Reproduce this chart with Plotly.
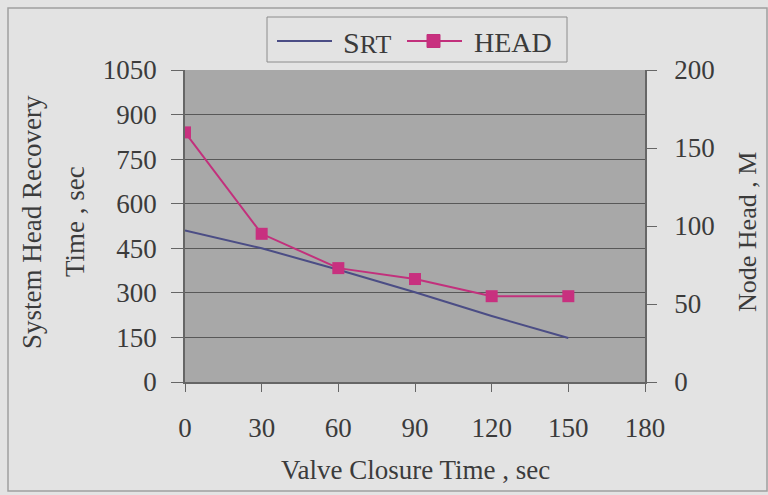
import plotly.graph_objects as go

valve_time = [0, 30, 60, 90, 120, 150]
srt = [510, 450, 378, 302, 222, 148]
head = [160, 95, 73, 66, 55, 55]

x_ticks = [0, 30, 60, 90, 120, 150, 180]
left_ticks = [0, 150, 300, 450, 600, 750, 900, 1050]
right_ticks = [0, 50, 100, 150, 200]

FONT = "Liberation Serif"
TXT = "#3b3b3b"
PAPER = "#e3e3e3"
SRT_COLOR = "#4b4d85"
HEAD_COLOR = "#c2307c"

# plot area in pixels
L, R, T, B = 185, 645, 70, 382
W, H = 768, 495


def px(x):
    return (x - L) / (R - L)


def py(y):
    return (B - y) / (B - T)


fig = go.Figure()
fig.add_trace(go.Scatter(x=valve_time, y=srt, name="SRT", mode="lines",
                         line=dict(color=SRT_COLOR, width=2), yaxis="y", showlegend=False))
fig.add_trace(go.Scatter(x=valve_time, y=head, name="HEAD", mode="lines+markers",
                         line=dict(color=HEAD_COLOR, width=2),
                         marker=dict(symbol="square", size=12, color="#c8307f"),
                         yaxis="y2", showlegend=False))

axis_common = dict(showline=True, linecolor="#666666", linewidth=1.5,
                   ticks="outside", tickcolor="#666666",
                   tickfont=dict(family=FONT, size=27, color=TXT),
                   zeroline=False)

fig.update_layout(
    width=W, height=H,
    margin=dict(l=L, r=W - R, t=T, b=H - B),
    paper_bgcolor=PAPER, plot_bgcolor="#a8a8a8",
    xaxis=dict(range=[0, 180], tickvals=x_ticks, ticklen=8, showgrid=False,
               ticklabelstandoff=13, **axis_common),
    yaxis=dict(range=[0, 1050], tickvals=left_ticks, ticklen=12, showgrid=True,
               gridcolor="#585858", gridwidth=1, ticklabelstandoff=9, **axis_common),
    yaxis2=dict(range=[0, 200], tickvals=right_ticks, ticklen=10, overlaying="y", side="right",
                showgrid=False, ticklabelstandoff=12, **axis_common),
)

ann = [
    ("System Head Recovery", 32, 222, 27, -90),
    ("Time , sec", 75, 222, 27, -90),
    ("Node Head , M", 748, 232, 26, -90),
    ("Valve Closure Time , sec", 415, 470, 27, 0),
]
for text, x, y, size, ang in ann:
    fig.add_annotation(text=text, x=px(x), y=py(y), xref="paper", yref="paper",
                       xanchor="center", yanchor="middle", showarrow=False,
                       textangle=ang, font=dict(family=FONT, size=size, color=TXT))

# outer frame
fig.add_shape(type="rect", xref="paper", yref="paper",
              x0=px(8), x1=px(767), y0=py(491), y1=py(8),
              line=dict(color="#a0a0a0", width=1.5), layer="below")

# legend (drawn manually to match the box layout)
fig.add_shape(type="rect", xref="paper", yref="paper",
              x0=px(267), x1=px(567), y0=py(62), y1=py(17),
              line=dict(color="#8c8c8c", width=1), fillcolor=PAPER, layer="below")
fig.add_shape(type="line", xref="paper", yref="paper",
              x0=px(277), x1=px(332), y0=py(41), y1=py(41),
              line=dict(color=SRT_COLOR, width=2))
fig.add_annotation(text="S<span style='font-size:26px'>RT</span>", x=px(341), y=py(42),
                   xref="paper", yref="paper", xanchor="left", yanchor="middle",
                   showarrow=False, font=dict(family=FONT, size=30, color=TXT))
fig.add_shape(type="line", xref="paper", yref="paper",
              x0=px(407), x1=px(462), y0=py(41), y1=py(41),
              line=dict(color=HEAD_COLOR, width=2))
fig.add_shape(type="rect", xref="paper", yref="paper",
              x0=px(427), x1=px(440), y0=py(47.5), y1=py(34.5),
              line=dict(color=HEAD_COLOR, width=1), fillcolor="#c8307f")
fig.add_annotation(text="HEAD", x=px(472), y=py(42),
                   xref="paper", yref="paper", xanchor="left", yanchor="middle",
                   showarrow=False, font=dict(family=FONT, size=28, color=TXT))

fig.write_html("out.html")
